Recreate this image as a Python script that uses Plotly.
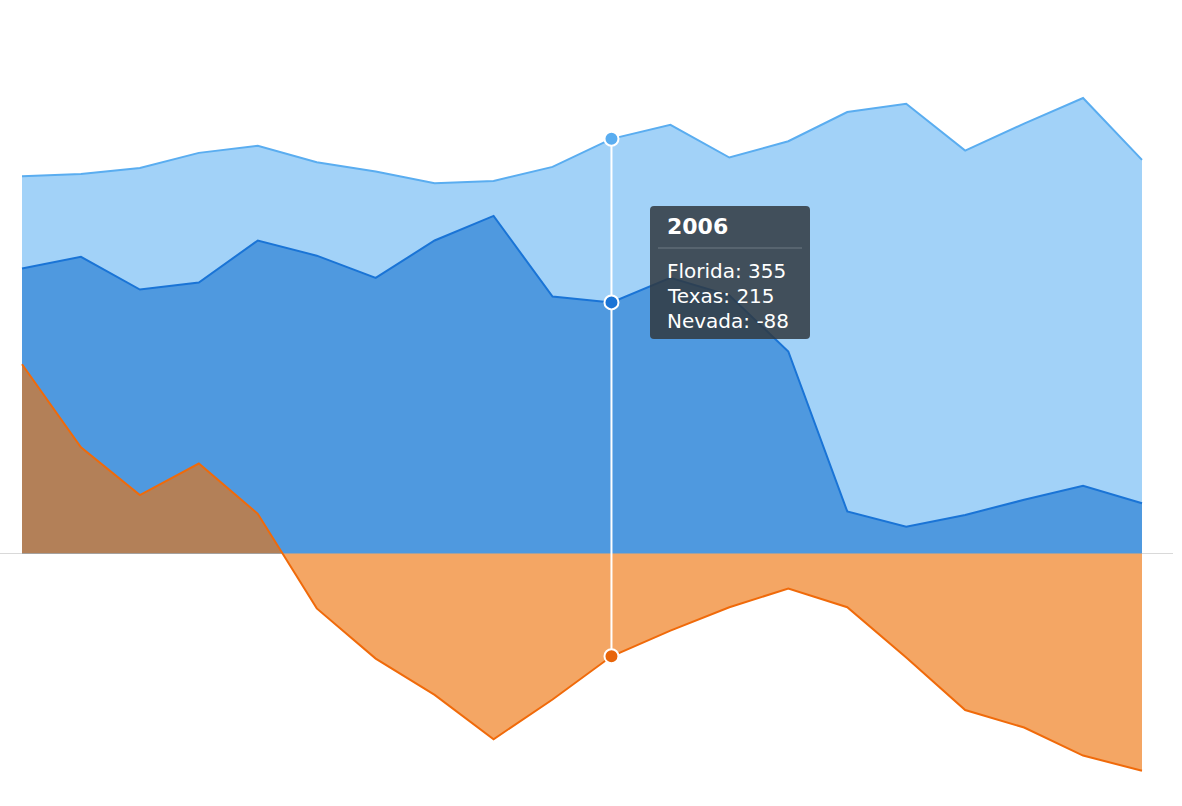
import plotly.graph_objects as go

years = list(range(1996, 2016))
florida = [323, 325, 330, 343, 349, 335, 327, 317, 319, 331, 355, 367, 339, 353, 378, 385, 345, 368, 390, 337]
texas = [244, 254, 226, 232, 268, 255, 236, 268, 289, 220, 215, 236, 221, 173, 36, 23, 33, 46, 58, 43]
nevada = [162, 91, 50, 77, 34, -47, -90, -121, -159, -125, -88, -66, -46, -30, -46, -89, -134, -149, -173, -186]

hover_year = 2006
hi = years.index(hover_year)

W, H = 1182, 806
PLOT_W = 1173

fig = go.Figure()
fig.add_trace(go.Scatter(x=years, y=florida, name="Florida", mode="lines", fill="tozeroy",
                         line=dict(color="#5aadf0", width=2), fillcolor="#a2d2f8"))
fig.add_trace(go.Scatter(x=years, y=texas, name="Texas", mode="lines", fill="tozeroy",
                         line=dict(color="#1a74d6", width=2), fillcolor="#4f99df"))
fig.add_trace(go.Scatter(x=years, y=nevada, name="Nevada", mode="lines", fill="tozeroy",
                         line=dict(color="#f06a0a", width=2), fillcolor="rgba(237,114,10,0.63)"))

# crosshair line
fig.add_trace(go.Scatter(x=[hover_year, hover_year], y=[nevada[hi], florida[hi]], mode="lines",
                         line=dict(color="white", width=2), showlegend=False))
# hover markers
fig.add_trace(go.Scatter(x=[hover_year] * 3, y=[florida[hi], texas[hi], nevada[hi]], mode="markers",
                         marker=dict(size=14, color=["#5aadf0", "#1a74d6", "#e8650a"],
                                     line=dict(color="white", width=2)), showlegend=False))

# axis ranges derived from pixel layout
px_per_year = (1142 - 22) / (len(years) - 1)
x0 = years[0] - 22 / px_per_year
x1 = years[-1] + (PLOT_W - 1142) / px_per_year
scale = 1.168
zero_px = 553.5
y1 = zero_px / scale
y0 = -(H - zero_px) / scale


def px(x):
    return x / PLOT_W


def py(y):
    return 1 - y / H


# tooltip box
bx0, bx1, by0, by1, r = 650, 810, 206, 339, 4
path = (f"M {px(bx0 + r)} {py(by0)} L {px(bx1 - r)} {py(by0)} "
        f"Q {px(bx1)} {py(by0)} {px(bx1)} {py(by0 + r)} L {px(bx1)} {py(by1 - r)} "
        f"Q {px(bx1)} {py(by1)} {px(bx1 - r)} {py(by1)} L {px(bx0 + r)} {py(by1)} "
        f"Q {px(bx0)} {py(by1)} {px(bx0)} {py(by1 - r)} L {px(bx0)} {py(by0 + r)} "
        f"Q {px(bx0)} {py(by0)} {px(bx0 + r)} {py(by0)} Z")
shapes = [
    dict(type="path", path=path, xref="paper", yref="paper", fillcolor="rgba(48,56,64,0.85)",
         line=dict(width=0), layer="above"),
    dict(type="line", xref="paper", yref="paper", x0=px(658), x1=px(802), y0=py(248), y1=py(248),
         line=dict(color="rgba(140,150,160,0.6)", width=1), layer="above"),
]

font_fam = "DejaVu Sans, Verdana, sans-serif"
annotations = [
    dict(text=f"<b>{hover_year}</b>", xref="paper", yref="paper", x=px(665), y=py(227),
         xanchor="left", yanchor="middle", showarrow=False, font=dict(color="white", size=22, family=font_fam)),
]
labels = [f"Florida: {florida[hi]}", f"Texas: {texas[hi]}", f"Nevada: {nevada[hi]}"]
for i, t in enumerate(labels):
    annotations.append(dict(text=t, xref="paper", yref="paper", x=px(665), y=py(271 + 25 * i),
                            xanchor="left", yanchor="middle", showarrow=False,
                            font=dict(color="white", size=20, family=font_fam)))

fig.update_layout(
    width=W, height=H,
    margin=dict(l=0, r=W - PLOT_W, t=0, b=0),
    paper_bgcolor="white", plot_bgcolor="white",
    showlegend=False, hovermode=False,
    xaxis=dict(range=[x0, x1], visible=False, showgrid=False, zeroline=False),
    yaxis=dict(range=[y0, y1], showgrid=False, showticklabels=False, ticks="",
               zeroline=True, zerolinecolor="#d9d9d9", zerolinewidth=1, showline=False),
    shapes=shapes,
    annotations=annotations,
)

fig.write_html("out.html")
